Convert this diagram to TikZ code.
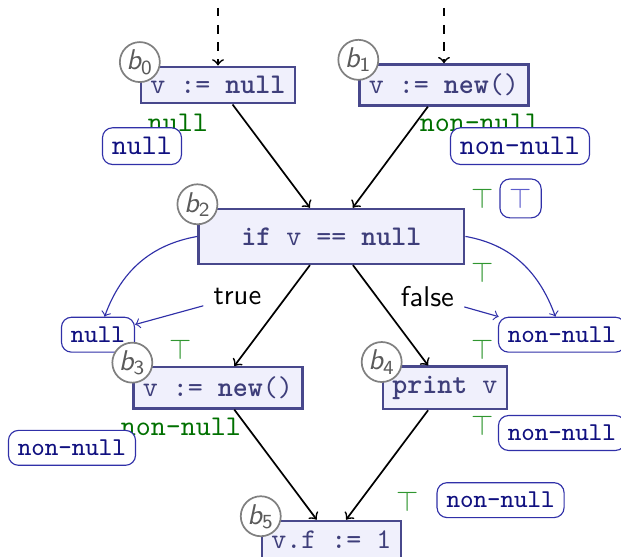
\documentclass[tikz,border=0pt]{standalone}
\usetikzlibrary{positioning}

\definecolor{stmtdraw}{RGB}{72,72,140}
\definecolor{stmtfill}{RGB}{240,240,252}
\definecolor{stmttext}{RGB}{62,62,122}
\definecolor{absdraw}{RGB}{48,48,168}
\definecolor{abstext}{RGB}{16,16,128}
\definecolor{abstop}{RGB}{92,92,204}
\definecolor{factgreen}{RGB}{0,112,0}
\definecolor{topgreen}{RGB}{48,150,48}
\definecolor{idgray}{RGB}{90,90,90}

\newcommand{\blockname}[1]{{\sffamily\itshape b}$_{\mathsf{#1}}$}

\begin{document}
\begin{tikzpicture}[node distance=53pt and 39.7pt, on grid, semithick, >=to]
	\tikzstyle{stmt} = [draw=stmtdraw, thick, fill=stmtfill, text=stmttext, rectangle, font={\ttfamily}];
	\tikzstyle{blockid} = [draw=gray, fill=white, circle, text=idgray, inner sep=0.5pt, minimum size=13.5pt];
	\tikzstyle{absval} = [draw=absdraw, thin, fill=white, rounded corners=3.5pt, text=abstext, font={\ttfamily}];
	\tikzstyle{smallabs} = [absval, font={\ttfamily\small}];
	\tikzstyle{fact} = [text=factgreen, font={\ttfamily}];
	\tikzstyle{topfact} = [text=topgreen];
	\tikzstyle{branch} = [font={\sffamily}];
	\tikzstyle{flow} = [black, semithick, ->];
	\tikzstyle{absflow} = [absdraw, thin, ->];

	\path[use as bounding box, clip] (-76.3pt,-165.2pt) rectangle (141.05pt,29.75pt);

	% the blocks
	\node[stmt] (b0) {v := \textbf{null}};
	\node[stmt] (b1) [right=79.1pt of b0] {v := \textbf{new}()};
	\node[stmt, minimum width=93pt, minimum height=19.3pt] (b2) [below right=of b0] {\textbf{if} v == \textbf{null}};
	\node[stmt] (b3) [below left=of b2] {v := \textbf{new}()};
	\node[stmt] (b4) [below right=of b2] {\textbf{print} v};
	\node[stmt] (b5) [below right=of b3] {v.f := 1};

	\coordinate[above=27pt of b0] (in0);
	\coordinate[above=27pt of b1] (in1);

	\path[flow]
	(in0) edge [dashed] (b0)
	(in1) edge [dashed] (b1)
	(b0) edge (b2)
	(b1) edge (b2)
	(b2) edge (b3)
		edge (b4)
	(b3) edge (b5)
	(b4) edge (b5);

	% facts after each block
	\node[fact] (f0) [below left=13.3pt and 14pt of b0] {null};
	\node[fact] (f1) [below right=13.3pt and 12.6pt of b1] {non-null};
	\node[fact] (f3) [below left=13.7pt and 13pt of b3] {non-null};
	\node[topfact] (t2a) [above right=13.3pt and 52.9pt of b2] {$\top$};
	\node[topfact] (t2b) [below right=12.6pt and 52.9pt of b2] {$\top$};
	\node[topfact] (t3) [above left=13.3pt and 13pt of b3] {$\top$};
	\node[topfact] (t4a) [above right=13.3pt and 13.3pt of b4] {$\top$};
	\node[topfact] (t4b) [below right=13.3pt and 13.3pt of b4] {$\top$};
	\node[topfact] (t5) [above right=13.3pt and 26.6pt of b5] {$\top$};

	% abstract values
	\node[absval] (s0) [below left=21.4pt and 26.6pt of b0] {null};
	\node[absval] (s1) [below right=21.4pt and 26.6pt of b1] {non-null};
	\node[absval, text=abstop] (s2) [above right=13.3pt and 66.2pt of b2] {$\top$};
	\node[smallabs] (s2t) [above left=18.6pt and 42pt of b3] {null};
	\node[smallabs] (s2f) [above right=18.6pt and 41pt of b4] {non-null};
	\node[smallabs] (s3) [below left=21pt and 51.1pt of b3] {non-null};
	\node[smallabs] (s4) [below right=15.8pt and 41pt of b4] {non-null};
	\node[smallabs] (s5) [above right=13.7pt and 59.2pt of b5] {non-null};

	% branch refinement
	\node[branch] (true) [below left=21pt and 32.9pt of b2] {true};
	\node[branch] (false) [below right=21pt and 33.6pt of b2] {false};

	\draw[absflow] (b2.west) to[out=190, in=70] (s2t);
	\draw[absflow] (b2.east) to[out=-10, in=110] (s2f);
	\draw[absflow] (true) -- (s2t);
	\draw[absflow] (false) -- (s2f);

	% block ids
	\foreach \b in {0,...,5}
		\node[blockid] (id\b) at ([yshift=1.2pt]b\b.north west) {\blockname{\b}};
\end{tikzpicture}
\end{document}
